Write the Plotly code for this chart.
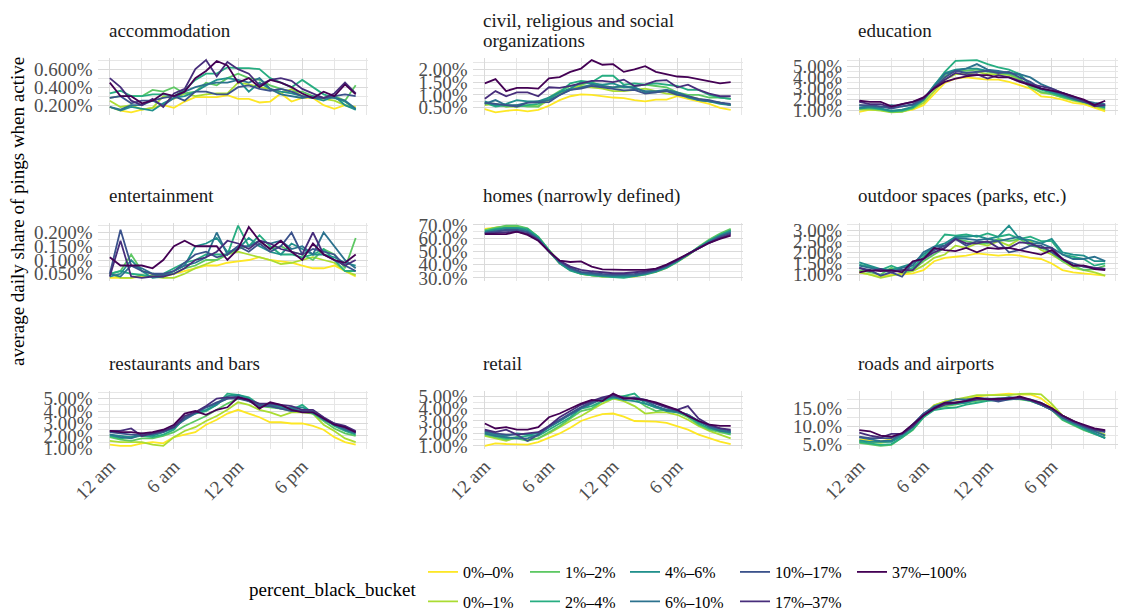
import plotly.graph_objects as go

W, H = 1121, 614
FONT = "Liberation Serif"

# ---------------- data ----------------
hours = list(range(24))
hour_ticks = [0, 6, 12, 18]
hour_labels = ["12 am", "6 am", "12 pm", "6 pm"]

buckets = ["0%–0%", "0%–1%", "1%–2%", "2%–4%", "4%–6%", "6%–10%",
           "10%–17%", "17%–37%", "37%–100%"]
colors = ["#FDE725", "#AADC32", "#5DC863", "#27AD81", "#21908C", "#2C728E",
          "#3B528B", "#472D7B", "#440154"]

facets = ["accommodation", "civil, religious and social\norganizations", "education",
          "entertainment", "homes (narrowly defined)", "outdoor spaces (parks, etc.)",
          "restaurants and bars", "retail", "roads and airports"]

# values: average daily share of pings when active, in percent; one list per bucket
accommodation = [
    [0.18,0.14,0.12,0.15,0.17,0.20,0.17,0.24,0.29,0.29,0.29,0.31,0.27,0.27,0.23,0.24,0.33,0.24,0.28,0.28,0.20,0.16,0.20,0.18],
    [0.25,0.18,0.20,0.15,0.17,0.30,0.27,0.33,0.30,0.32,0.33,0.33,0.45,0.43,0.40,0.38,0.33,0.38,0.30,0.28,0.27,0.25,0.20,0.16],
    [0.28,0.30,0.30,0.30,0.37,0.35,0.40,0.33,0.35,0.45,0.42,0.50,0.55,0.50,0.48,0.42,0.38,0.35,0.35,0.30,0.28,0.30,0.25,0.42],
    [0.33,0.36,0.30,0.30,0.32,0.32,0.30,0.37,0.48,0.55,0.55,0.62,0.61,0.61,0.60,0.50,0.45,0.40,0.48,0.40,0.32,0.28,0.24,0.15],
    [0.18,0.14,0.18,0.16,0.14,0.22,0.28,0.30,0.35,0.42,0.48,0.50,0.48,0.35,0.45,0.38,0.35,0.33,0.30,0.28,0.25,0.30,0.20,0.15],
    [0.18,0.15,0.20,0.20,0.25,0.20,0.28,0.35,0.40,0.43,0.45,0.45,0.48,0.45,0.50,0.38,0.32,0.30,0.28,0.30,0.28,0.28,0.25,0.16],
    [0.28,0.30,0.22,0.25,0.25,0.28,0.30,0.25,0.35,0.35,0.32,0.32,0.40,0.42,0.38,0.36,0.38,0.35,0.30,0.28,0.28,0.30,0.32,0.30],
    [0.50,0.40,0.25,0.20,0.27,0.18,0.33,0.38,0.60,0.70,0.52,0.68,0.60,0.55,0.42,0.48,0.50,0.47,0.38,0.33,0.28,0.33,0.45,0.33],
    [0.45,0.30,0.30,0.22,0.25,0.33,0.30,0.35,0.50,0.58,0.69,0.64,0.45,0.50,0.40,0.48,0.45,0.40,0.33,0.28,0.35,0.30,0.43,0.32],
]
civil = [
    [0.45,0.32,0.38,0.42,0.36,0.42,0.58,0.80,0.95,1.02,1.00,0.95,0.90,0.88,0.80,0.75,0.82,0.82,0.95,0.85,0.75,0.65,0.50,0.42],
    [0.60,0.65,0.55,0.55,0.60,0.55,0.80,1.05,1.25,1.35,1.30,1.25,1.15,1.15,1.20,1.25,1.15,1.05,1.00,0.95,0.85,0.75,0.70,0.60],
    [0.70,0.65,0.55,0.60,0.55,0.55,0.90,1.15,1.35,1.40,1.50,1.35,1.30,1.30,1.35,1.40,1.35,1.30,1.10,1.00,1.00,0.90,0.90,0.85],
    [0.70,0.55,0.60,0.55,0.60,0.65,0.85,1.10,1.45,1.55,1.50,1.75,1.75,1.40,1.45,1.40,1.45,1.40,1.35,1.20,1.20,1.00,0.90,0.85],
    [0.75,0.60,0.65,0.80,0.75,0.75,0.90,1.10,1.25,1.50,1.45,1.40,1.45,1.30,1.30,1.10,1.10,1.20,1.05,0.90,0.80,0.75,0.65,0.60],
    [0.65,0.80,0.60,0.60,0.70,0.75,0.80,1.00,1.20,1.30,1.40,1.35,1.30,1.35,1.25,1.15,1.15,1.20,1.10,0.95,0.80,0.75,0.70,0.60],
    [0.70,0.65,0.60,0.55,0.70,0.72,0.72,1.00,1.20,1.25,1.35,1.30,1.25,1.18,1.20,1.05,1.10,1.15,1.00,0.95,0.85,0.80,0.70,0.65],
    [0.85,1.15,0.95,1.10,1.10,0.95,1.30,1.28,1.35,1.45,1.55,1.55,1.50,1.60,1.35,1.40,1.55,1.58,1.30,1.40,1.20,1.05,0.95,0.95],
    [1.45,1.62,1.15,1.28,1.28,1.25,1.65,1.70,1.90,2.03,2.36,2.18,2.20,1.90,2.00,2.12,1.90,1.80,1.72,1.70,1.62,1.55,1.45,1.50],
]
education = [
    [0.90,1.10,1.05,0.90,0.95,1.10,1.50,2.50,3.50,3.90,4.00,3.90,3.80,3.80,3.60,3.30,3.00,2.30,2.20,2.00,1.70,1.60,1.30,0.95],
    [1.10,1.10,1.00,0.85,0.90,1.20,1.70,2.80,3.80,4.30,4.30,4.50,4.30,4.30,4.20,3.80,3.20,2.60,2.50,2.20,1.90,1.70,1.40,1.10],
    [1.20,1.20,1.10,0.90,0.95,1.20,1.90,3.10,4.10,4.60,4.60,4.70,4.50,4.40,4.30,3.90,3.10,2.70,2.50,2.20,2.00,1.80,1.50,1.20],
    [1.50,1.30,1.10,0.95,1.00,1.30,2.00,3.30,4.50,5.50,5.50,5.56,5.20,4.90,4.70,4.30,3.30,2.90,2.60,2.30,2.00,1.80,1.60,1.40],
    [1.20,1.30,1.20,1.00,1.10,1.35,2.00,3.30,4.40,4.70,4.80,4.80,4.60,4.50,4.40,4.20,3.40,3.00,2.70,2.40,2.10,1.80,1.50,1.30],
    [1.30,1.40,1.30,1.50,1.40,1.50,2.00,3.20,4.30,4.60,4.80,5.20,4.70,4.60,4.40,4.30,4.00,3.40,3.00,2.60,2.20,1.90,1.70,1.60],
    [1.50,1.50,1.40,1.20,1.40,1.60,2.10,3.00,4.00,4.60,4.40,4.50,4.60,4.40,4.50,4.00,3.60,3.00,2.80,2.50,2.10,1.80,1.60,1.50],
    [1.80,1.60,1.60,1.30,1.60,1.80,2.10,3.10,3.80,4.40,4.20,4.30,3.90,4.20,4.00,3.70,3.40,3.20,3.00,2.60,2.30,1.90,1.40,1.50],
    [1.90,1.80,1.80,1.40,1.60,1.80,2.20,3.00,3.60,3.90,4.10,4.20,4.20,4.00,4.00,3.60,3.30,3.00,2.80,2.60,2.30,2.00,1.50,1.90],
]
entertainment = [
    [0.035,0.035,0.035,0.040,0.045,0.040,0.050,0.060,0.070,0.080,0.080,0.090,0.095,0.100,0.110,0.100,0.095,0.090,0.080,0.070,0.070,0.080,0.060,0.040],
    [0.050,0.035,0.035,0.045,0.040,0.035,0.035,0.050,0.070,0.085,0.100,0.120,0.130,0.120,0.110,0.100,0.085,0.090,0.100,0.110,0.100,0.090,0.060,0.045],
    [0.050,0.060,0.120,0.060,0.050,0.045,0.050,0.070,0.080,0.100,0.100,0.120,0.140,0.150,0.170,0.140,0.150,0.130,0.120,0.100,0.140,0.120,0.070,0.180],
    [0.050,0.060,0.050,0.045,0.040,0.050,0.070,0.090,0.100,0.120,0.120,0.120,0.225,0.150,0.190,0.150,0.120,0.120,0.110,0.120,0.140,0.100,0.060,0.060],
    [0.040,0.050,0.100,0.060,0.035,0.040,0.060,0.080,0.150,0.160,0.180,0.130,0.140,0.180,0.150,0.130,0.120,0.160,0.140,0.120,0.120,0.110,0.090,0.080],
    [0.050,0.040,0.080,0.070,0.050,0.045,0.060,0.080,0.090,0.110,0.200,0.120,0.150,0.150,0.170,0.160,0.170,0.140,0.150,0.120,0.200,0.150,0.100,0.070],
    [0.050,0.210,0.080,0.060,0.050,0.050,0.060,0.090,0.120,0.130,0.110,0.120,0.150,0.130,0.160,0.130,0.150,0.200,0.120,0.140,0.130,0.120,0.080,0.060],
    [0.040,0.170,0.040,0.035,0.040,0.040,0.050,0.070,0.100,0.110,0.130,0.170,0.160,0.140,0.170,0.160,0.140,0.130,0.120,0.200,0.120,0.100,0.080,0.100],
    [0.110,0.080,0.080,0.080,0.070,0.100,0.150,0.170,0.150,0.150,0.150,0.100,0.140,0.220,0.170,0.140,0.170,0.130,0.100,0.160,0.120,0.100,0.090,0.120],
]
homes = [
    [67.0,68.0,69.0,69.0,67.0,60.0,50.0,41.0,36.0,33.0,32.0,31.0,31.0,30.5,31.0,32.5,34.5,37.5,42.0,47.0,53.0,58.0,62.5,66.0],
    [66.0,68.0,69.0,69.0,67.0,61.0,51.0,42.0,36.0,33.5,32.0,31.5,31.0,31.0,31.5,33.0,35.0,38.0,42.5,47.5,53.0,58.5,63.0,66.5],
    [66.0,68.0,69.5,69.5,67.5,61.0,51.0,42.0,36.0,33.0,32.0,31.0,31.0,30.5,31.5,33.0,35.0,38.0,42.5,47.5,53.5,59.0,63.5,67.0],
    [65.0,67.0,68.0,68.0,67.0,61.0,51.0,41.0,35.5,33.0,32.0,31.0,30.5,30.0,31.0,32.5,34.5,37.5,42.0,47.0,52.5,58.0,62.5,66.0],
    [65.0,66.5,67.5,67.5,66.0,60.0,50.0,41.0,36.0,33.5,32.5,31.5,31.0,31.0,31.5,33.0,35.0,38.0,42.5,47.5,53.0,58.0,62.0,65.5],
    [64.0,65.5,66.5,66.5,65.0,59.5,50.0,42.0,37.0,34.0,33.0,32.0,32.0,32.0,32.0,33.5,35.5,38.5,43.0,48.0,53.0,57.5,61.5,64.5],
    [64.0,65.0,66.0,66.0,64.5,59.0,50.0,42.5,37.5,34.5,33.5,33.0,32.5,32.5,33.0,34.0,36.0,39.0,43.0,48.0,52.5,57.0,61.0,64.0],
    [63.5,64.0,64.5,65.0,63.5,58.5,50.0,43.0,38.5,36.0,35.0,34.0,33.5,33.5,34.0,35.0,36.5,39.5,43.5,48.0,52.5,56.5,60.0,63.0],
    [63.0,63.0,63.0,65.0,62.5,58.0,50.0,43.0,42.0,42.5,38.5,36.5,36.0,36.0,36.0,36.0,37.0,40.0,44.0,48.0,52.5,56.5,59.5,62.0],
]
outdoor = [
    [1.10,1.00,0.90,1.00,1.00,1.05,1.20,1.60,1.75,1.80,1.85,1.95,1.90,1.85,1.90,1.85,1.75,1.70,1.50,1.20,1.10,1.05,1.00,0.95],
    [1.10,1.00,0.85,0.95,1.05,1.15,1.40,1.75,1.90,2.30,2.20,2.40,2.30,2.50,2.30,2.60,2.50,2.10,1.90,1.60,1.30,1.20,1.10,0.95],
    [1.20,1.10,1.00,1.30,1.10,1.20,1.60,1.90,2.20,2.60,2.50,2.40,2.40,2.60,2.50,2.60,2.30,2.20,2.00,1.60,1.40,1.20,1.25,1.40],
    [1.45,1.35,1.20,1.40,1.20,1.30,1.80,2.20,2.80,2.75,2.80,2.70,2.85,2.70,2.80,2.60,2.70,2.50,2.50,1.90,1.80,1.70,1.40,1.50],
    [1.55,1.40,1.25,1.20,1.35,1.50,1.90,2.25,2.40,2.70,2.70,2.75,2.60,2.70,3.20,2.60,2.55,2.40,2.60,2.00,1.90,1.85,1.60,1.60],
    [1.40,1.30,1.20,1.10,1.30,1.40,2.00,2.25,2.30,2.65,2.60,2.55,2.60,2.50,2.60,2.70,2.40,2.40,2.20,1.90,1.70,1.70,1.80,1.60],
    [1.30,1.20,0.95,1.10,0.90,1.55,1.70,2.10,2.30,2.60,2.30,2.50,2.45,2.50,2.00,2.10,2.30,2.30,2.00,1.70,1.50,1.35,1.30,1.25],
    [1.30,1.15,1.25,1.10,1.20,1.20,1.70,2.00,2.20,2.60,2.40,2.40,2.50,2.20,2.20,2.45,2.40,2.20,2.20,1.70,1.40,1.40,1.30,1.25],
    [1.10,1.20,1.15,1.20,1.10,1.60,1.70,2.20,2.10,2.05,2.20,2.00,2.20,2.15,2.20,2.10,2.00,1.90,2.10,1.70,1.40,1.40,1.25,1.20],
]
restaurants = [
    [1.30,1.20,1.20,1.40,1.50,1.40,1.90,2.10,2.30,2.90,3.30,3.80,4.10,3.80,3.50,3.10,3.10,3.00,3.00,2.80,2.50,1.90,1.50,1.30],
    [1.60,1.50,1.50,1.50,1.30,1.20,1.90,2.40,2.70,3.20,3.60,4.10,4.70,4.50,4.10,3.90,3.60,3.90,3.90,3.80,2.90,2.40,1.80,1.50],
    [1.90,1.70,1.60,1.80,1.80,2.00,2.30,2.80,3.20,3.60,4.10,4.60,5.00,4.90,4.40,4.30,4.20,4.00,4.00,3.80,3.20,2.60,2.20,2.00],
    [2.00,1.80,1.90,2.00,1.90,2.10,2.50,3.50,3.80,4.00,4.50,5.40,5.30,5.10,4.50,4.50,4.30,4.10,4.50,3.80,3.40,2.80,2.40,2.10],
    [2.10,2.00,1.90,2.20,2.00,2.30,2.60,3.40,3.90,4.10,4.50,5.20,5.30,5.00,4.40,4.40,4.20,4.30,4.30,3.90,3.30,2.90,2.50,2.30],
    [2.10,1.90,1.80,2.10,2.10,2.40,2.70,3.30,3.80,4.30,4.60,5.00,5.20,4.80,4.50,4.50,4.40,4.20,4.00,4.00,3.30,2.90,2.50,2.20],
    [2.30,2.20,2.10,2.10,2.20,2.30,2.80,3.40,3.90,4.30,4.70,5.00,5.00,4.80,4.40,4.40,4.20,4.00,4.00,3.90,3.40,3.00,2.60,2.30],
    [2.40,2.40,2.60,2.00,2.20,2.40,2.70,3.60,3.90,4.40,5.00,5.10,5.10,4.90,4.60,4.60,4.50,4.40,4.10,4.10,3.50,3.00,2.80,2.40],
    [2.40,2.30,2.30,2.20,2.30,2.50,2.90,3.80,4.00,3.70,4.10,4.30,5.10,4.90,4.20,4.70,4.50,4.10,3.90,3.90,3.40,2.90,2.70,2.30],
]
retail = [
    [1.00,1.20,1.15,1.10,1.10,1.30,1.65,2.00,2.45,3.00,3.30,3.55,3.60,3.35,3.00,3.00,2.95,2.85,2.60,2.30,1.90,1.60,1.35,1.15],
    [1.80,1.60,1.40,1.70,1.50,1.60,2.00,2.50,3.00,3.40,3.90,4.40,4.80,4.60,4.20,3.60,3.70,3.70,3.50,3.10,2.60,2.20,1.90,1.60],
    [1.90,1.70,1.50,1.60,1.40,1.60,2.10,2.60,3.20,3.80,4.00,4.60,4.80,5.00,4.80,4.20,3.80,3.90,3.70,3.30,2.70,2.30,2.10,1.90],
    [2.00,1.80,1.60,1.70,1.80,1.80,2.30,2.80,3.30,4.00,4.20,4.60,4.90,5.00,5.20,4.40,4.10,3.90,3.80,3.40,2.80,2.40,2.20,2.00],
    [2.10,1.90,1.80,2.00,1.90,2.00,2.50,3.00,3.60,4.10,4.50,4.80,4.90,4.70,4.60,4.40,4.10,3.80,3.70,3.50,2.90,2.60,2.30,2.10],
    [2.00,1.80,1.70,1.60,1.60,1.90,2.50,3.00,3.50,4.00,4.40,4.80,5.00,4.90,4.80,4.60,4.20,3.90,3.80,3.50,3.00,2.50,2.20,2.10],
    [2.20,2.00,1.90,1.90,1.40,1.90,2.60,3.10,3.60,4.10,4.50,4.80,5.00,4.80,4.90,4.70,4.40,4.10,3.80,3.50,3.00,2.60,2.40,2.20],
    [2.30,2.10,2.30,1.90,2.00,2.10,2.60,3.30,3.80,4.30,4.60,4.90,5.10,4.90,4.80,4.70,4.40,4.10,3.90,4.20,3.20,2.70,2.40,2.30],
    [2.80,2.40,2.50,2.30,2.30,2.50,3.30,3.60,4.00,4.40,4.70,4.60,5.20,4.80,4.80,4.70,4.50,4.20,3.90,3.40,3.00,2.70,2.60,2.60],
]
roads = [
    [6.5,6.2,6.0,6.5,8.0,10.0,13.0,15.8,16.8,17.3,17.8,18.2,18.5,18.8,19.0,18.7,18.8,17.7,15.3,13.0,11.5,10.0,9.0,7.5],
    [6.0,5.8,5.5,6.0,7.8,9.8,13.0,15.8,16.8,17.5,18.0,18.6,18.6,18.4,18.6,18.9,19.0,18.8,16.2,13.0,11.5,10.0,8.8,7.8],
    [5.5,5.0,4.7,5.0,7.0,9.0,12.5,15.0,15.5,16.0,16.5,17.0,17.2,17.4,17.6,17.4,17.0,16.0,14.5,11.8,10.5,9.0,8.0,7.0],
    [5.8,5.5,5.0,5.2,7.0,9.2,12.5,14.5,15.0,15.2,16.0,16.5,17.0,17.2,17.4,17.6,17.0,16.0,14.8,12.0,10.5,9.2,8.0,6.8],
    [6.2,5.8,5.8,5.8,7.5,9.8,13.0,15.0,16.0,16.2,16.5,17.4,17.6,17.8,17.8,17.8,17.4,16.5,15.0,12.5,11.0,9.5,8.2,6.8],
    [7.0,6.5,6.0,6.2,8.0,10.5,13.5,15.5,16.5,17.4,17.4,17.8,17.6,17.4,18.0,17.8,17.2,16.0,14.5,12.5,11.0,9.8,8.5,7.5],
    [7.2,6.8,6.8,6.8,8.0,10.5,13.5,15.2,16.2,16.5,17.0,17.4,17.4,16.8,17.4,17.6,17.2,16.0,14.5,12.5,11.2,10.0,9.0,8.5],
    [8.3,7.5,7.0,8.0,8.0,10.0,13.0,14.8,16.0,16.5,17.0,17.4,17.6,17.2,17.8,17.8,17.2,16.2,15.0,13.0,11.5,10.2,9.2,8.8],
    [9.0,8.7,7.5,7.2,8.2,10.5,13.0,15.0,16.5,16.5,17.0,17.8,17.4,17.6,17.6,18.2,17.4,16.5,15.0,13.0,11.5,10.5,9.5,9.0],
]

panel_data = [accommodation, civil, education, entertainment, homes, outdoor,
              restaurants, retail, roads]

# ---------------- styling ----------------
# y major tick step and decimals per facet (labels in percent)
y_step = [0.2, 0.5, 1.0, 0.05, 10.0, 0.5, 1.0, 1.0, 5.0]
y_dec = [3, 2, 2, 3, 1, 2, 2, 2, 1]

col_left = [97.5, 472.5, 847.0]
panel_w = 270.5
row_top = [57.5, 223.0, 391.0]
panel_h = 57.5
title_x = [107.0, 481.0, 856.0]

GRID = "#DADADA"
MINOR = "#E6E6E6"
TICK_COL = "#4D4D4D"
TEXT_COL = "#1A1A1A"


def px_x(p):
    return p / W


def px_y(p):
    return 1 - p / H


fig = go.Figure()
annotations = []
layout_axes = {}

for i, (name, series) in enumerate(zip(facets, panel_data)):
    r, c = divmod(i, 3)
    ax = "" if i == 0 else str(i + 1)
    x0, x1 = col_left[c], col_left[c] + panel_w
    y0, y1 = row_top[r], row_top[r] + panel_h
    lo = min(min(s) for s in series)
    hi = max(max(s) for s in series)
    pad = 0.05 * (hi - lo)

    for k, (b, s) in enumerate(zip(buckets, series)):
        tr = go.Scatter(
            x=hours, y=s, mode="lines", name=b,
            line=dict(color=colors[k], width=1.8),
            xaxis="x" + ax, yaxis="y" + ax,
            showlegend=(i == 0), hoverinfo="skip",
        )
        if i == 0:
            tr.legend = "legend" if k == 0 else "legend" + str(k + 1)
        fig.add_trace(tr)

    layout_axes["xaxis" + ax] = dict(
        domain=[px_x(x0), px_x(x1)], anchor="y" + ax, automargin=False,
        range=[-1.15, 24.15], tickmode="array", tickvals=hour_ticks,
        ticktext=hour_labels, showticklabels=(r == 2), tickangle=-45,
        tickfont=dict(family=FONT, size=19, color=TICK_COL),
        showgrid=True, gridcolor=GRID, gridwidth=1.1, zeroline=False,
        showline=False, ticks="", ticklabelstandoff=2,
        minor=dict(tickmode="linear", tick0=0, dtick=3, showgrid=True,
                   gridcolor=MINOR, gridwidth=0.8),
    )
    layout_axes["yaxis" + ax] = dict(
        domain=[px_y(y1), px_y(y0)], anchor="x" + ax, automargin=False,
        range=[lo - pad, hi + pad], tick0=0, dtick=y_step[i],
        tickformat="." + str(y_dec[i]) + "f", ticksuffix="%",
        tickfont=dict(family=FONT, size=19, color=TICK_COL),
        showgrid=True, gridcolor=GRID, gridwidth=1.1, zeroline=False,
        showline=False, ticks="", ticklabelstandoff=4,
        minor=dict(dtick=y_step[i] / 2, showgrid=True, gridcolor=MINOR,
                   gridwidth=0.8),
    )

    lines = name.split("\n")
    centre = row_top[r] - 27.5
    n = len(lines)
    for j, ln in enumerate(lines):
        yc = centre + (j - (n - 1) / 2) * 20
        annotations.append(dict(
            text=ln, xref="paper", yref="paper", x=px_x(title_x[c]), y=px_y(yc),
            xanchor="left", yanchor="middle", showarrow=False,
            font=dict(family=FONT, size=19, color=TEXT_COL)))

# y axis title
annotations.append(dict(
    text="average daily share of pings when active", xref="paper", yref="paper",
    x=px_x(18), y=px_y(212), xanchor="center", yanchor="middle", textangle=-90,
    showarrow=False, font=dict(family=FONT, size=19, color="#000000")))

# legend title
annotations.append(dict(
    text="percent_black_bucket", xref="paper", yref="paper",
    x=px_x(247), y=px_y(589), xanchor="left", yanchor="middle",
    showarrow=False, font=dict(family=FONT, size=19, color="#000000")))

# one legend per key (column-major two-row layout like ggplot)
leg_x = [428, 428, 530, 530, 630, 630, 740, 740, 857]
leg_y = [572, 601.5, 572, 601.5, 572, 601.5, 572, 601.5, 572]
legends = {}
for k in range(len(buckets)):
    key = "legend" if k == 0 else "legend" + str(k + 1)
    legends[key] = dict(
        x=px_x(leg_x[k] - 5), y=px_y(leg_y[k]), xanchor="left", yanchor="middle",
        xref="container", yref="container", orientation="v",
        bgcolor="rgba(0,0,0,0)", borderwidth=0,
        font=dict(family=FONT, size=16, color="#000000"),
        itemclick=False, itemdoubleclick=False,
    )

fig.update_layout(
    width=W, height=H, margin=dict(l=0, r=0, t=0, b=0, autoexpand=False),
    paper_bgcolor="white", plot_bgcolor="white",
    annotations=annotations, **layout_axes, **legends,
)

fig.write_html("out.html")
